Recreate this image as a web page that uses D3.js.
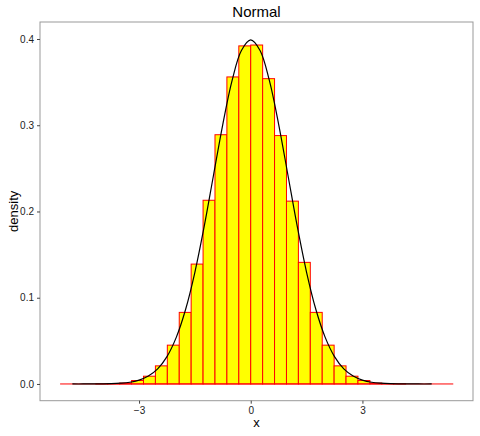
<!DOCTYPE html>
<html><head><meta charset="utf-8">
<script src="https://cdn.jsdelivr.net/npm/d3@7"></script>
<style>body{margin:0;background:#fff}text{font-family:"Liberation Sans",Arial,sans-serif}</style>
</head><body><svg id="c" width="480" height="436"></svg>
<script>
const binEdges = [-5.12,-4.8,-4.48,-4.16,-3.84,-3.52,-3.2,-2.88,-2.56,-2.24,-1.92,-1.6,-1.28,-0.96,-0.64,-0.32,0,0.32,0.64,0.96,1.28,1.6,1.92,2.24,2.56,2.88,3.2,3.52,3.84,4.16,4.48,4.8,5.12,5.44];
const binHeights = [0,0,0,0.0001,0.0003,0.001,0.004,0.009,0.021,0.045,0.083,0.139,0.213,0.289,0.356,0.392,0.393,0.354,0.288,0.212,0.141,0.083,0.045,0.021,0.009,0.004,0.001,0.0003,0.0001,0,0,0,0];
const densX = [-4.79,-4.5,-4.25,-4,-3.75,-3.5,-3.25,-3,-2.75,-2.5,-2.25,-2,-1.75,-1.5,-1.25,-1,-0.75,-0.5,-0.25,0,0.25,0.5,0.75,1,1.25,1.5,1.75,2,2.25,2.5,2.75,3,3.25,3.5,3.75,4,4.25,4.5,4.86];
const densY = [0,0,0.0001,0.0002,0.0004,0.0009,0.002,0.0045,0.0092,0.0175,0.0317,0.054,0.0863,0.1295,0.1826,0.242,0.3011,0.352,0.3867,0.3989,0.3867,0.352,0.3011,0.242,0.1826,0.1295,0.0863,0.054,0.0317,0.0175,0.0092,0.0045,0.002,0.0009,0.0004,0.0002,0.0001,0,0];
const xTicks = [-3,0,3];
const yTicks = [0,0.1,0.2,0.3,0.4];

const svg = d3.select("#c");
const L=40,R=473,T=22,B=400.7;
const x = d3.scaleLinear().domain([-5.66,5.97]).range([L,R]);
const y = d3.scaleLinear().domain([-0.0194,0.4197]).range([B,T]);

svg.append("g").selectAll("rect").data(binHeights).join("rect")
  .attr("x",(d,i)=>x(binEdges[i])).attr("width",(d,i)=>x(binEdges[i+1])-x(binEdges[i]))
  .attr("y",d=>y(d)).attr("height",d=>Math.max(0,y(0)-y(d)))
  .attr("fill","yellow").attr("stroke","red").attr("stroke-width",1);
svg.append("line").attr("x1",x(binEdges[0])).attr("x2",x(binEdges[binEdges.length-1]))
  .attr("y1",y(0)).attr("y2",y(0)).attr("stroke","red");
svg.append("path").datum(densX.map((v,i)=>[v,densY[i]]))
  .attr("d",d3.line().x(d=>x(d[0])).y(d=>y(d[1])).curve(d3.curveCatmullRom))
  .attr("fill","none").attr("stroke","black").attr("stroke-width",1.2);

svg.append("rect").attr("x",L).attr("y",T).attr("width",R-L).attr("height",B-T)
  .attr("fill","none").attr("stroke","#999");
const xa = svg.append("g").attr("transform",`translate(0,${B})`)
  .call(d3.axisBottom(x).tickValues(xTicks).tickSize(3).tickFormat(d3.format("d")));
const ya = svg.append("g").attr("transform",`translate(${L},0)`)
  .call(d3.axisLeft(y).tickValues(yTicks).tickSize(3).tickFormat(d3.format(".1f")));
[xa,ya].forEach(a=>{a.select(".domain").remove();a.selectAll("line").attr("stroke","#444");
  a.selectAll("text").attr("fill","#222").style("font-size","10px");});
svg.append("text").attr("x",(L+R)/2).attr("y",427).attr("text-anchor","middle").style("font-size","13px").text("x");
svg.append("text").attr("transform",`translate(18,${(T+B)/2}) rotate(-90)`).attr("text-anchor","middle").style("font-size","13px").text("density");
svg.append("text").attr("x",(L+R)/2).attr("y",17).attr("text-anchor","middle").style("font-size","15px").text("Normal");
</script></body></html>
